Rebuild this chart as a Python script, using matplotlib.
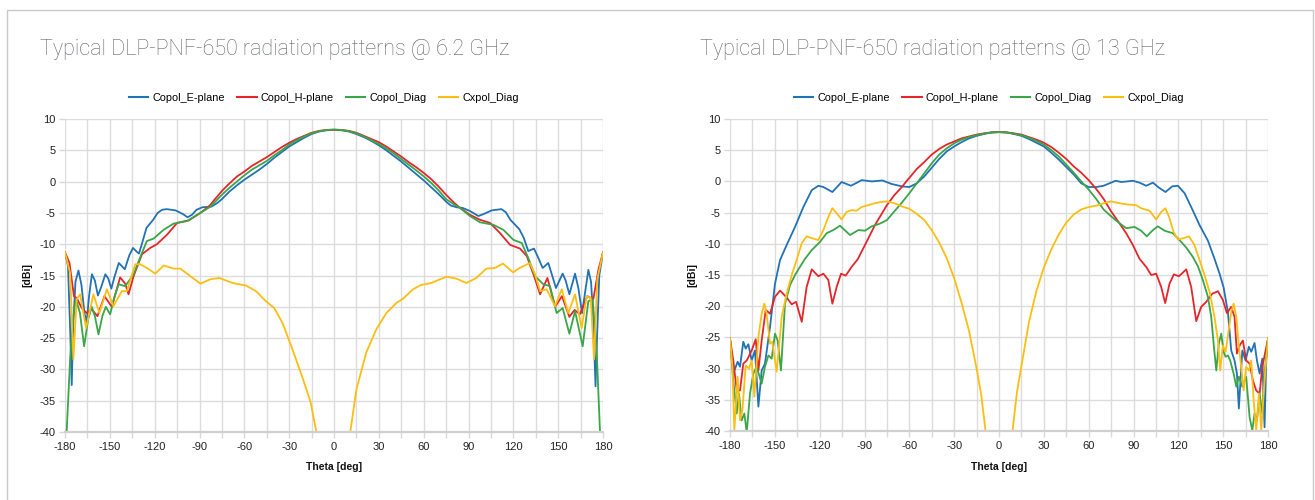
#plot.py


#COMMENT: Imports.

import matplotlib as mpl;
mpl.use('Agg');
import matplotlib.pyplot as plt;
from matplotlib.patches import Rectangle;
from matplotlib.lines import Line2D;


#COMMENT: Data (theta in deg, gain in dBi).

#COMMENT: 6.2 GHz, Copol_E-plane.
e62_theta = [-180, -178, -176.5, -175.5, -174.5, -173, -171, -169, -167, -165.5, -164, -162, -160, -158, -156, -153, -151, -149, -147, -144, -142, -140, -137, -134.5, -132, -130.5, -128, -125.5, -121, -118, -115, -112, -106, -101, -98, -95, -92, -88, -82, -78, -75, -70, -65, -60, -55, -50, -45, -40, -35, -30, -25, -20, -15, -10, -5, 0,
             5, 10, 15, 20, 25, 30, 35, 40, 45, 50, 55, 60, 65, 70, 75, 78, 82, 86, 91, 96.6, 100, 105.5, 112, 115, 118, 124, 127, 130, 133.8, 136, 139.6, 143.4, 146, 148.5, 153, 155, 157.5, 161.3, 163.5, 166, 170.2, 172, 173.5, 175, 176, 177.5, 180];
e62_db = [-11.3, -13.5, -24, -32.5, -23, -16, -14.2, -16.5, -21, -22.5, -18.5, -14.8, -15.8, -18.2, -17, -14.8, -15.5, -17.1, -15.3, -13, -13.5, -14, -11.8, -10.6, -11.2, -11.5, -9.5, -7.4, -6.1, -5, -4.5, -4.4, -4.6, -5.2, -5.7, -5.3, -4.5, -4.1, -4.0, -3.4, -2.8, -1.6, -0.6, 0.3, 1.1, 1.9, 2.8, 3.8, 4.7, 5.6, 6.3, 7.0, 7.6, 8.0, 8.2, 8.25,
          8.2, 8.0, 7.6, 7.1, 6.5, 5.8, 5.0, 4.1, 3.2, 2.2, 1.2, 0.2, -0.9, -2.0, -3.2, -3.8, -4.1, -4.2, -4.7, -5.5, -5.2, -4.6, -4.4, -4.9, -6.1, -7.6, -9, -11.1, -10.7, -11.8, -13.8, -13, -15, -17, -14.7, -15.8, -18, -14.7, -17, -21, -14.1, -16, -22, -32.7, -25, -15, -11.3];

#COMMENT: 6.2 GHz, Copol_H-plane.
h62_theta = [-180, -177, -174, -172.2, -168.8, -165.5, -162.1, -158.3, -153.6, -148.7, -143.1, -139.7, -137.5, -134.1, -128.5, -123, -118.5, -111.8, -105, -97.2, -89.4, -83, -80, -75, -70, -65, -60, -55, -50, -45, -40, -35, -30, -25, -20, -15, -10, -5, 0,
             5, 10, 15, 20, 25, 30, 35, 40, 45, 50, 55, 60, 65, 70, 75, 80, 84.3, 91, 97.7, 104.4, 111, 117.8, 124.5, 129, 133.9, 137.9, 142.8, 148, 152.5, 157.5, 161, 164.5, 169.5, 173.5, 177, 180];
h62_db = [-11.3, -13, -18.3, -18.6, -20.2, -21, -20.4, -21.5, -18.3, -20, -15.3, -16.3, -18, -15.1, -11.6, -10.6, -10, -8.5, -6.6, -6.2, -5.0, -3.8, -2.9, -1.5, -0.3, 0.8, 1.6, 2.5, 3.2, 3.9, 4.7, 5.5, 6.2, 6.8, 7.3, 7.8, 8.1, 8.25, 8.3,
          8.25, 8.1, 7.8, 7.3, 6.8, 6.3, 5.6, 4.8, 4.0, 3.1, 2.3, 1.4, 0.4, -0.8, -2.1, -3.3, -4.2, -5.3, -6.1, -6.6, -8.2, -10.1, -10.7, -11.9, -15.1, -18, -15.4, -20, -18.3, -21.6, -20.5, -21.2, -18.3, -18.8, -14, -11.3];

#COMMENT: 6.2 GHz, Copol_Diag.
d62_theta = [-180, -178.9, -176.5, -174.4, -172.6, -170, -167.2, -164.5, -162.1, -160, -157.6, -155, -152.7, -149.8, -147, -144.2, -139.7, -134.1, -128.5, -125.2, -120.7, -114, -107.3, -98.3, -89.4, -82.7, -75, -70, -65, -60, -55, -50, -45, -40, -35, -30, -25, -20, -15, -10, -5, 0,
             5, 10, 15, 20, 25, 30, 35, 40, 45, 50, 55, 60, 65, 70, 75, 80, 84.3, 91, 97.7, 106.6, 113.3, 120, 125.6, 130, 134.5, 140.1, 144.5, 149, 153, 157.5, 161.3, 166.4, 170.2, 173.1, 175.8, 178, 180];
d62_db = [-45, -40, -28, -21.5, -18.8, -21, -26.3, -22, -20, -21.5, -24.4, -21.5, -20, -21.2, -18.5, -16.4, -16.7, -14.8, -11.4, -9.5, -9.1, -7.7, -6.7, -6.3, -5.0, -4.0, -2.1, -1.0, 0.0, 1.0, 1.9, 2.6, 3.3, 4.2, 5.0, 5.9, 6.6, 7.2, 7.7, 8.05, 8.25, 8.3,
          8.25, 8.05, 7.7, 7.2, 6.6, 6.0, 5.3, 4.5, 3.6, 2.7, 1.8, 0.85, -0.2, -1.4, -2.8, -3.6, -4.2, -5.5, -6.5, -6.9, -7.7, -9.3, -9.8, -12.2, -15.1, -16.4, -16.7, -21, -20.2, -24.3, -20.7, -26.3, -19.1, -18.8, -27.3, -40, -45];

#COMMENT: 6.2 GHz, Cxpol_Diag.
x62_theta = [-180, -176.6, -174.4, -172.2, -169.9, -165.9, -161, -157, -152, -147.6, -142, -138.6, -133, -129.7, -125.2, -119.6, -114, -107.3, -102.8, -96.1, -89.4, -82.7, -76.7, -67.8, -58.9, -52.2, -45.6, -40, -34.4, -27.8, -21.1, -15.6, -11.8, -9, 0,
             9, 10.9, 15, 21.6, 28.3, 35, 41.7, 46.2, 52.9, 58.4, 65.1, 70, 75.2, 81.9, 88.6, 95.2, 101.9, 107.5, 113.1, 119.8, 124.2, 131, 134.5, 137.9, 142.3, 147.9, 152.4, 156.8, 161.3, 165.7, 169.1, 171.8, 174, 176.2, 180];
x62_db = [-11.3, -14.6, -28.4, -18.8, -18, -23.4, -18, -21, -17.2, -19.9, -17.5, -17.5, -13.2, -13.2, -13.8, -14.7, -13.4, -13.9, -13.9, -15.1, -16.3, -15.6, -15.4, -16.2, -16.6, -17.5, -19.1, -20.2, -22.6, -26.8, -31.3, -35.3, -40, -45, -50,
          -45, -40, -33.2, -27.3, -23.6, -21, -19.4, -18.7, -17.2, -16.5, -16.2, -15.7, -15.2, -15.5, -16.2, -15.4, -13.9, -13.8, -13.1, -14.5, -13.8, -13, -14.8, -17.5, -17.2, -19.9, -17.2, -21, -18, -23.4, -18.3, -18.6, -28.4, -15.6, -11.3];

#COMMENT: 13 GHz, Copol_E-plane.
e13_theta = [-180, -177.8, -174.9, -173.3, -171.1, -169.5, -167.7, -165.5, -163.3, -161, -158.8, -156.6, -153.2, -149.9, -146.5, -142.1, -136.5, -130.9, -125.3, -120.9, -117.5, -111.5, -105.3, -99, -91.9, -85, -78, -72, -65, -60, -55, -50, -45, -40, -35, -30, -25, -20, -15, -10, -5, 0,
             5, 10, 15, 20, 25, 30, 35, 40, 45, 50, 55, 60, 65, 70, 75, 78, 82, 89.6, 94, 98.5, 103, 107, 111.4, 115.9, 119.7, 124.2, 128.6, 134.2, 139.8, 144.2, 147.6, 150.3, 153.2, 155.4, 157.6, 159.2, 160.5, 162.8, 165, 167.2, 168.8, 171, 172.6, 174.4, 176.2, 177.7, 178.8, 180];
e13_db = [-25.2, -30.8, -28.9, -29.7, -25.7, -26.8, -26.1, -28.7, -27.1, -36.1, -30.3, -29.2, -23.3, -16.4, -12.6, -10.2, -7.3, -4.1, -1.4, -0.7, -0.9, -1.7, -0.1, -0.7, 0.2, 0.0, 0.15, -0.4, -0.8, -0.9, -0.3, 0.8, 2.2, 3.6, 4.8, 5.6, 6.3, 6.9, 7.3, 7.6, 7.85, 7.9,
          7.85, 7.6, 7.3, 6.8, 6.2, 5.6, 4.6, 3.5, 2.3, 1.1, -0.3, -0.9, -0.9, -0.7, -0.2, 0.1, -0.1, 0.1, -0.2, -0.7, -0.2, -1.0, -1.7, -0.8, -0.7, -1.9, -4.1, -7, -9.5, -12.4, -14.8, -17, -21, -27.1, -28.7, -30.8, -36.4, -27.1, -28.7, -26.5, -27.3, -25.9, -28.7, -30.8, -28.4, -39.4, -28.7, -25.2];

#COMMENT: 13 GHz, Copol_H-plane.
h13_theta = [-180, -177.8, -175.5, -173.3, -171.1, -168.8, -165.5, -162.8, -161, -158.8, -156.1, -153.2, -149.9, -146.5, -142.1, -138.7, -135.8, -132, -128.7, -125.3, -120.9, -117.5, -114.2, -111.5, -108.6, -105.7, -102.6, -98.6, -94.6, -89.7, -83, -75, -70, -65, -62, -55, -50, -45, -40, -35, -30, -25, -20, -15, -10, -5, 0,
             5, 10, 15, 20, 25, 30, 35, 40, 45, 50, 55, 60, 65, 70, 75, 80.6, 85.1, 89.6, 94, 98.5, 101.8, 105.2, 108.5, 111.2, 114.1, 117, 120.4, 125.3, 128.6, 132, 135.3, 138.7, 142.7, 146.5, 149.8, 152.5, 155.4, 157.6, 159.2, 161, 163.2, 165.4, 167.7, 169.9, 172.1, 174.4, 176.2, 180];
h13_db = [-25.2, -28.7, -33.5, -33.5, -29.2, -28.7, -27.1, -25.3, -30.3, -25.5, -20.6, -21.2, -18.5, -17.5, -18.6, -19.7, -19.3, -22.5, -16.9, -14.1, -15.2, -14.8, -15.8, -19.6, -16.9, -14.8, -15.1, -13.7, -12.5, -10.2, -7.0, -3.8, -2.2, -0.9, 0, 2.0, 3.1, 4.3, 5.2, 5.9, 6.4, 6.9, 7.2, 7.5, 7.7, 7.85, 7.9,
          7.85, 7.7, 7.5, 7.1, 6.7, 6.2, 5.5, 4.6, 3.6, 2.4, 1.4, 0.2, -1.2, -2.8, -4.8, -6.7, -8.3, -10.2, -12.4, -13.7, -15, -14.8, -16.9, -19.5, -16.4, -14.9, -15.2, -14.1, -16.9, -22.4, -20.1, -19.3, -18, -17.6, -19, -21.1, -20.1, -21.7, -27.6, -26.3, -25.5, -28.7, -29.2, -31.9, -33.5, -34, -29.7, -25.2];

#COMMENT: 13 GHz, Copol_Diag.
d13_theta = [-180, -177.8, -175.5, -174, -172.2, -170.4, -168.8, -166.6, -164.4, -162.2, -158.8, -156.6, -154.3, -152.1, -149.9, -148.1, -145.9, -143.2, -139.8, -136.5, -133.2, -129.8, -125.3, -119.8, -115.3, -110.9, -106.4, -99.7, -94.1, -89.7, -85.2, -80, -75, -70, -65, -60, -55, -50, -45, -40, -35, -30, -25, -20, -15, -10, -5, 0,
             5, 10, 15, 20, 25, 30, 35, 40, 45, 50, 55, 60, 65, 70, 75, 80.6, 85.1, 90.7, 95.1, 98.9, 103, 106.3, 110.8, 116.3, 120.8, 125.3, 129.7, 133.1, 136.4, 139.8, 142, 143.8, 145.4, 147.1, 148.7, 150.3, 151.6, 153.2, 154.7, 157, 158.8, 160.5, 162.8, 165.4, 167.7, 169.5, 171, 172.6, 174.4, 176.2, 177.7, 180];
d13_db = [-25.2, -31.9, -37.2, -34, -38.3, -37.2, -40.2, -34, -30.8, -29.7, -32.4, -29.7, -27.9, -28.4, -24.4, -25.5, -30.3, -19.6, -16.6, -15, -13.7, -12.4, -11, -9.7, -8.3, -7.8, -7.1, -8.6, -7.8, -7.9, -7.2, -6.8, -6.2, -4.8, -3.4, -1.9, -0.3, 1.3, 2.9, 4.3, 5.3, 6.1, 6.7, 7.1, 7.4, 7.65, 7.85, 7.9,
          7.85, 7.65, 7.4, 7.0, 6.5, 5.9, 5.0, 4.0, 2.7, 1.4, 0, -1.3, -2.8, -4.5, -5.6, -6.7, -7.5, -7.3, -7.9, -8.8, -7.8, -7.2, -7.9, -8.3, -9.4, -10.6, -12.1, -13.6, -15.8, -18.5, -21.7, -26.5, -30.3, -26, -24.4, -27.3, -28.1, -27.9, -28.7, -30.8, -32.9, -31.3, -32.9, -31.3, -37.8, -39.9, -37.2, -38.3, -34, -37.2, -30.8, -25.2];

#COMMENT: 13 GHz, Cxpol_Diag.
x13_theta = [-180, -178.4, -177.1, -174.9, -173.3, -171.7, -169.5, -167.3, -165.5, -163.7, -161, -158.8, -157, -155.5, -153.2, -151.7, -149.9, -148.8, -147.2, -145.4, -142.1, -138.7, -135.4, -132, -128.7, -125.3, -120.9, -117.5, -114.2, -111.5, -108.6, -105.3, -102, -98.6, -95.3, -91.9, -87.4, -83, -79, -75, -70, -65, -60, -55, -50, -45, -40, -35, -30, -25, -20, -15, -12, -9, -5, 0,
             5, 9, 12, 15, 20, 25, 30, 35, 40, 45, 50, 55, 60, 65, 70, 75, 80.6, 86.2, 91.8, 95.1, 100.7, 105.2, 108.5, 111.4, 114.1, 116.8, 119.7, 123.5, 127.1, 130.8, 134.2, 137.5, 140.9, 144.2, 146.5, 148, 149.8, 151.6, 153.2, 155.4, 157, 158.8, 160.5, 162.1, 163.7, 165.4, 167.2, 168.8, 170.4, 172.1, 173.9, 175.5, 177.1, 178.4, 180];
x13_db = [-25.2, -29.7, -39.9, -31.3, -38.3, -36.7, -29.5, -30, -28.7, -34.5, -24.9, -21.2, -19.6, -21.2, -26, -25.7, -28.7, -30.5, -26.5, -21.7, -18, -15, -12.6, -9.9, -8.8, -9.1, -9.4, -7.8, -5.7, -4.3, -5.1, -6.1, -4.9, -4.6, -4.7, -4.1, -3.8, -3.5, -3.3, -3.2, -3.5, -4.0, -4.4, -5.2, -6.2, -7.8, -9.8, -12.3, -15.5, -19.5, -24, -30, -34, -40, -46, -50,
          -46, -40.1, -33.8, -29.6, -22.6, -17.6, -13.8, -10.9, -8.5, -6.6, -5.3, -4.5, -4.1, -3.9, -3.5, -3.2, -3.5, -3.7, -3.8, -4.3, -4.7, -6.1, -4.9, -4.3, -5.9, -8.1, -9.3, -9.1, -8.8, -10.2, -12.6, -15, -17.7, -21.7, -25.5, -30.3, -26.3, -27.3, -24.7, -20.9, -19.6, -21.7, -26.5, -29.7, -33.5, -29.7, -30.3, -28.7, -35.1, -39.9, -34, -39.9, -34, -29.7, -25.2];

series_names = ["Copol_E-plane", "Copol_H-plane", "Copol_Diag", "Cxpol_Diag"];
series_colors = ["#2272b6", "#e4262b", "#3aa648", "#fdbe12"];
chart_titles = ["Typical DLP-PNF-650 radiation patterns @ 6.2 GHz", "Typical DLP-PNF-650 radiation patterns @ 13 GHz"];
x_ticks = list(range(-180, 181, 30));
y_ticks = list(range(-40, 11, 5));


#COMMENT: Figure, 1315 x 500 px.

W, H = 1315.0, 500.0;
fig = plt.figure(figsize = (W / 100, H / 100), dpi = 100);
mpl.rc('font', **{ 'family' : 'Liberation Sans' });

#COMMENT: Light grey frame around the whole panel.

fig.patches.append(Rectangle((7 / W, -0.02), 1306 / W, 1 - 10 / H + 0.02, transform = fig.transFigure,
                             fill = False, edgecolor = '#c9c9c9', linewidth = 1.0));

charts = [
    { 'left' : 65, 'right' : 603, 'top' : 119, 'bottom' : 432, 'title_x' : 40,
      'data' : [(e62_theta, e62_db), (h62_theta, h62_db), (d62_theta, d62_db), (x62_theta, x62_db)] },
    { 'left' : 730, 'right' : 1268, 'top' : 119, 'bottom' : 431, 'title_x' : 700,
      'data' : [(e13_theta, e13_db), (h13_theta, h13_db), (d13_theta, d13_db), (x13_theta, x13_db)] },
];

for k, c in enumerate(charts):
    ax = fig.add_axes([c['left'] / W, 1 - c['bottom'] / H, (c['right'] - c['left']) / W, (c['bottom'] - c['top']) / H]);

    #COMMENT: Curves.
    for (t, v), col in zip(c['data'], series_colors):
        ax.plot(t, v, color = col, linewidth = 1.3, solid_joinstyle = 'round');

    ax.set_xlim(-180, 180);
    ax.set_ylim(-40, 10);
    ax.set_xticks(x_ticks);
    ax.set_xticks(list(range(-165, 180, 30)), minor = True);
    ax.set_yticks(y_ticks);
    ax.set_xticklabels([str(t) for t in x_ticks]);
    ax.set_yticklabels([str(t) for t in y_ticks]);
    ax.tick_params(axis = 'both', which = 'both', length = 4, width = 1, color = '#d9d9d9',
                   labelsize = 8, labelcolor = '#222222', pad = 3);
    ax.grid(True, which = 'both', color = '#dcdcdc', linewidth = 1.0);
    ax.set_axisbelow(True);
    for name, spine in ax.spines.items():
        spine.set_visible(name == 'bottom');
    ax.spines['bottom'].set_color('#d0d0d0');
    ax.spines['bottom'].set_linewidth(1.6);

    cx = (c['left'] + c['right']) / 2.0;

    #COMMENT: Titles, axis labels and legend.
    fig.text(c['title_x'] / W, 1 - 49 / H, chart_titles[k], ha = 'left', va = 'center',
             fontsize = 15.5, color = '#62666b', family = 'Roboto', fontweight = 'light');
    fig.text((c['left'] - 38) / W, 1 - 275 / H, "[dBi]", rotation = 90, ha = 'center', va = 'center',
             fontsize = 7.5, fontweight = 'bold', color = '#111111');
    fig.text(cx / W, 1 - 467 / H, "Theta [deg]", ha = 'center', va = 'center',
             fontsize = 7.5, fontweight = 'bold', color = '#111111');
    handles = [Line2D([], [], color = col, linewidth = 1.5) for col in series_colors];
    fig.legend(handles, series_names, loc = 'center', bbox_to_anchor = ((cx - 10) / W, 1 - 98 / H),
               ncol = 4, frameon = False, fontsize = 7.8, handlelength = 1.8, handletextpad = 0.4,
               columnspacing = 1.1);

plt.savefig("out.png", format = 'png', dpi = 100);
plt.close();
